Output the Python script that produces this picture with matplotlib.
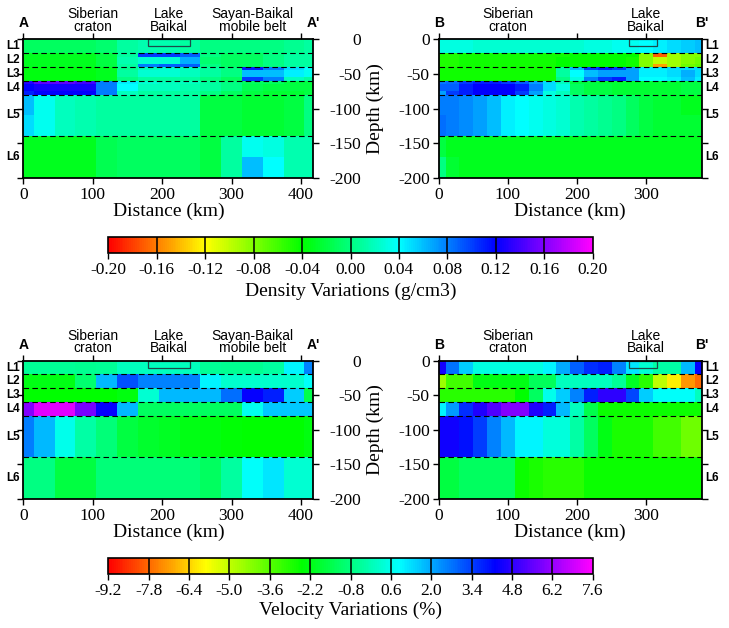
import numpy as np
import matplotlib
matplotlib.use("Agg")
import matplotlib.pyplot as plt
import matplotlib.transforms as mtransforms
from matplotlib.colors import LinearSegmentedColormap, Normalize
from matplotlib.cm import ScalarMappable
from matplotlib.patches import Rectangle

plt.rcParams['font.family'] = 'Liberation Serif'
plt.rcParams['axes.unicode_minus'] = False

# ---- profile geometry ----
dist_A = [0, 30, 60, 90, 120, 150, 180, 210, 240, 270, 300, 330, 360, 390, 420]
dist_B = [0, 20, 40, 60, 80, 100, 120, 140, 160, 180, 200, 220, 240, 260, 280,
          300, 320, 340, 360, 380]
len_A = 418
len_B = 380
dens_depth = [0, 20, 25, 35, 40, 45, 55, 60, 65, 75, 80, 110, 140, 170, 200]
vel_depth = [0, 20, 40, 60, 80, 140, 200]
layer_bounds = [20, 40, 60, 80, 140]
layer_names = ['L1', 'L2', 'L3', 'L4', 'L5', 'L6']
layer_mid = [10, 30, 50, 70, 110, 170]
lake_A = [180, 240]
lake_B = [275, 315]
regions_A = [(100, 'Siberian\ncraton'), (210, 'Lake\nBaikal'), (330, 'Sayan-Baikal\nmobile belt')]
regions_B = [(100, 'Siberian\ncraton'), (300, 'Lake\nBaikal')]
xticks_A = [0, 100, 200, 300, 400]
xticks_B = [0, 100, 200, 300]
yticks = [0, -50, -100, -150, -200]

# ---- density variations (g/cm3), rows = dens_depth intervals ----
dens_A = [
    [-0.01, -0.01, -0.01, -0.01, -0.005, 0.01, 0.015, 0.015, 0.01, 0.0, 0.0, 0.0, 0.0, 0.005, 0.01],
    [-0.03, -0.03, -0.03, -0.03, -0.02, 0.01, 0.10, 0.10, 0.09, 0.0, -0.01, -0.01, 0.0, 0.01, 0.01],
    [-0.03, -0.03, -0.03, -0.03, -0.02, 0.015, 0.025, 0.025, 0.065, -0.005, -0.01, -0.01, 0.0, 0.01, 0.01],
    [-0.03, -0.03, -0.03, -0.03, -0.02, 0.01, 0.08, 0.09, 0.09, 0.0, -0.01, -0.01, 0.0, 0.01, 0.01],
    [-0.035, -0.035, -0.035, -0.035, -0.03, 0.005, 0.02, 0.025, 0.02, 0.01, 0.0, 0.11, 0.08, 0.05, 0.04],
    [-0.035, -0.035, -0.035, -0.035, -0.03, 0.01, 0.025, 0.025, 0.02, 0.01, 0.0, 0.06, 0.06, 0.045, 0.035],
    [-0.035, -0.035, -0.035, -0.035, -0.03, 0.0, 0.01, 0.01, 0.01, 0.0, -0.01, 0.10, 0.08, 0.02, 0.01],
    [0.13, 0.15, 0.15, 0.14, 0.08, 0.045, 0.025, 0.02, 0.02, 0.01, 0.0, -0.01, -0.01, -0.02, -0.02],
    [0.12, 0.125, 0.125, 0.125, 0.08, 0.04, 0.02, 0.02, 0.015, 0.01, 0.0, -0.015, -0.02, -0.02, -0.02],
    [0.11, 0.12, 0.12, 0.12, 0.08, 0.02, 0.01, 0.01, 0.01, 0.0, -0.01, -0.02, -0.025, -0.025, -0.02],
    [0.06, 0.035, 0.02, 0.015, 0.01, 0.01, 0.01, 0.01, 0.01, -0.02, -0.02, -0.025, -0.025, -0.02, 0.0],
    [0.05, 0.035, 0.02, 0.015, 0.01, 0.01, 0.01, 0.01, 0.01, -0.02, -0.02, -0.025, -0.025, -0.02, 0.0],
    [-0.03, -0.03, -0.03, -0.03, -0.015, -0.01, -0.01, -0.01, -0.01, -0.02, 0.01, 0.035, 0.03, 0.015, 0.015],
    [-0.03, -0.03, -0.03, -0.03, -0.015, -0.01, -0.01, -0.01, -0.01, -0.02, 0.01, 0.06, 0.04, 0.015, 0.015],
]
dens_B = [
    [0.03, 0.03, 0.03, 0.025, 0.025, 0.025, 0.025, 0.025, 0.025, 0.025, 0.025, 0.03, 0.03, 0.035, 0.035, 0.04, 0.045, 0.05, 0.055, 0.06],
    [-0.05, -0.05, -0.045, -0.045, -0.045, -0.045, -0.045, -0.045, -0.045, -0.045, -0.04, -0.04, -0.04, -0.04, -0.04, -0.08, -0.17, -0.09, -0.08, -0.08],
    [-0.05, -0.05, -0.045, -0.045, -0.045, -0.045, -0.045, -0.045, -0.045, -0.04, -0.04, -0.04, -0.04, -0.04, -0.045, -0.08, -0.10, -0.09, -0.08, -0.075],
    [-0.05, -0.05, -0.045, -0.045, -0.045, -0.045, -0.045, -0.045, -0.045, -0.04, -0.04, -0.04, -0.04, -0.04, -0.045, -0.08, -0.15, -0.09, -0.075, -0.07],
    [-0.045, -0.045, -0.045, -0.045, -0.045, -0.045, -0.045, -0.045, -0.045, 0.01, 0.06, 0.10, 0.11, 0.10, 0.07, 0.045, 0.045, 0.05, 0.05, 0.05],
    [-0.045, -0.045, -0.045, -0.045, -0.045, -0.045, -0.045, -0.045, -0.045, 0.01, 0.04, 0.06, 0.07, 0.07, 0.07, 0.045, 0.045, 0.05, 0.065, 0.05],
    [-0.045, -0.045, -0.045, -0.045, -0.045, -0.045, -0.045, -0.045, -0.045, 0.0, 0.03, 0.08, 0.10, 0.11, 0.07, 0.04, 0.04, 0.045, 0.06, 0.045],
    [0.08, 0.085, 0.10, 0.11, 0.11, 0.10, 0.09, 0.07, 0.05, 0.02, -0.02, -0.02, -0.025, -0.025, -0.025, -0.025, -0.025, -0.025, -0.02, -0.02],
    [0.09, 0.09, 0.11, 0.12, 0.12, 0.12, 0.11, 0.08, 0.05, 0.03, -0.01, -0.02, -0.02, -0.025, -0.025, -0.025, -0.025, -0.025, -0.02, -0.02],
    [0.07, 0.10, 0.11, 0.12, 0.12, 0.12, 0.10, 0.07, 0.03, 0.02, -0.01, -0.02, -0.02, -0.025, -0.025, -0.025, -0.025, -0.025, -0.02, -0.02],
    [0.08, 0.08, 0.075, 0.07, 0.06, 0.045, 0.04, 0.035, 0.03, 0.025, 0.015, 0.01, 0.005, 0.0, -0.01, -0.02, -0.025, -0.025, -0.03, -0.03],
    [0.085, 0.08, 0.075, 0.07, 0.06, 0.045, 0.04, 0.035, 0.03, 0.025, 0.015, 0.01, 0.005, 0.0, -0.01, -0.02, -0.025, -0.025, -0.025, -0.025],
    [-0.02, -0.03, -0.03, -0.03, -0.03, -0.03, -0.03, -0.03, -0.03, -0.03, -0.03, -0.03, -0.03, -0.03, -0.03, -0.03, -0.03, -0.03, -0.03, -0.03],
    [0.0, -0.025, -0.03, -0.03, -0.03, -0.03, -0.03, -0.03, -0.03, -0.03, -0.03, -0.03, -0.03, -0.03, -0.03, -0.03, -0.03, -0.03, -0.03, -0.03],
]

# ---- velocity variations (%), rows = layers L1..L6 ----
vel_A = [
    [-0.5, -0.5, -0.5, -0.6, -0.5, 0.0, 0.0, 0.0, 0.0, -0.5, -0.6, -0.6, -0.4, 1.0, 2.5],
    [-2.2, -2.2, -2.2, -1.0, 1.8, 3.2, 2.5, 2.5, 2.5, 1.0, 0.2, 0.2, 0.2, 0.2, 0.8],
    [-2.5, -2.5, -2.5, -2.5, -2.5, -2.3, 0.3, 1.8, 1.8, 1.8, 2.8, 4.3, 3.8, 1.5, -1.5],
    [5.9, 7.2, 7.2, 5.8, 4.3, 1.8, -1.2, -1.2, -1.2, -1.2, -1.2, 0.7, 1.6, 1.6, 1.6],
    [2.6, 1.8, 0.6, -0.3, -0.9, -1.6, -1.9, -2.0, -2.2, -2.3, -2.4, -2.5, -2.5, -2.5, -2.3],
    [-0.8, -0.8, -1.6, -1.6, -0.9, -0.9, -0.9, -0.9, -0.9, -1.2, -0.4, 0.8, 1.2, 0.3, 0.3],
]
vel_B = [
    [4.5, 2.7, 1.5, 0.5, 0.5, 0.5, 0.5, 0.5, 1.0, 2.0, 3.0, 3.6, 3.8, 2.5, 1.2, 0.3, -0.3, -0.3, 1.8, 4.3],
    [-4.5, -3.3, -3.3, -2.2, -2.2, -2.2, -2.2, -1.3, -1.3, 0.0, 0.0, 0.0, 0.0, -0.5, -2.0, -3.0, -5.0, -6.0, -7.2, -7.8],
    [-3.0, -3.0, -3.0, -3.0, -3.0, -3.0, -2.5, -1.2, 0.6, 1.5, 2.5, 3.8, 4.8, 4.8, 3.3, 1.5, 0.8, 0.8, 0.8, 0.0],
    [1.0, 2.2, 3.6, 4.6, 5.3, 5.9, 5.9, 4.6, 3.8, 1.8, 0.0, -1.5, -2.6, -2.6, -2.6, -2.6, -2.6, -2.6, -2.6, -2.6],
    [4.4, 4.4, 4.0, 3.4, 2.5, 1.8, 1.0, 1.0, 0.4, 0.4, -0.3, -1.2, -2.2, -2.8, -2.8, -2.8, -3.3, -3.3, -3.9, -3.9],
    [-1.6, -1.6, -1.2, -1.2, -1.2, -1.2, -2.6, -2.8, -3.0, -3.0, -3.0, -2.6, -2.6, -2.6, -2.6, -2.6, -2.6, -2.6, -2.6, -2.6],
]

dens_ticks = [-0.20, -0.16, -0.12, -0.08, -0.04, 0.00, 0.04, 0.08, 0.12, 0.16, 0.20]
dens_labels = ['-0.20', '-0.16', '-0.12', '-0.08', '-0.04', '0.00', '0.04', '0.08', '0.12', '0.16', '0.20']
vel_ticks = [-9.2, -7.8, -6.4, -5.0, -3.6, -2.2, -0.8, 0.6, 2.0, 3.4, 4.8, 6.2, 7.6]
vel_labels = ['-9.2', '-7.8', '-6.4', '-5.0', '-3.6', '-2.2', '-0.8', '0.6', '2.0', '3.4', '4.8', '6.2', '7.6']

# GMT-like rainbow: red -> yellow -> green -> cyan -> blue -> magenta
cmap = LinearSegmentedColormap.from_list(
    'rainbow_gmt', ['#ff0000', '#ffff00', '#00ff00', '#00ffff', '#0000ff', '#ff00ff'])
dens_norm = Normalize(dens_ticks[0], dens_ticks[-1])
vel_norm = Normalize(vel_ticks[0], vel_ticks[-1])

fig = plt.figure(figsize=(7.29, 6.28), dpi=100)

SANS = 'Liberation Sans'


def draw_panel(rect, dist, length, depth_edges, values, norm, ends, regions, lake, xticks, side):
    ax = fig.add_axes(rect)
    dist = np.asarray(dist, float)
    xe = np.concatenate([[0], (dist[:-1] + dist[1:]) / 2, [length]])
    ye = -np.asarray(depth_edges, float)
    ax.pcolormesh(xe, ye, np.asarray(values), cmap=cmap, norm=norm, shading='flat')
    for d in layer_bounds:
        ax.axhline(-d, color='k', lw=0.8, ls=(0, (5, 3)))
    ax.add_patch(Rectangle((lake[0], -10), lake[1] - lake[0], 10, fill=False,
                           ec='#1d4a4a', lw=0.9))
    ax.set_xlim(0, length)
    ax.set_ylim(-200, 0)
    ax.set_xticks(xticks)
    ax.set_yticks(yticks)
    for s in ax.spines.values():
        s.set_linewidth(1.3)
    ax.tick_params(direction='out', length=4.5, width=1, labelsize=12.5,
                   top=True, bottom=True, left=True, right=True)
    ax.tick_params(axis='x', pad=2)
    ax.set_xlabel('Distance (km)', size=14, labelpad=0)

    xt = mtransforms.blended_transform_factory(ax.transData, ax.transAxes)
    yt = mtransforms.blended_transform_factory(ax.transAxes, ax.transData)
    ax.text(0, 1.115, ends[0], transform=xt, ha='center', va='center',
            family=SANS, fontweight='bold', size=10)
    ax.text(length, 1.115, ends[1], transform=xt, ha='center', va='center',
            family=SANS, fontweight='bold', size=10)
    for xk, txt in regions:
        ax.text(xk, 1.135, txt, transform=xt, ha='center', va='center',
                family=SANS, size=10, linespacing=0.85)

    if side == 'left':
        ax.tick_params(axis='y', labelleft=False, labelright=True, pad=30)
        for lab in ax.get_yticklabels():
            lab.set_horizontalalignment('right')
        for name, mid in zip(layer_names, layer_mid):
            ax.text(-0.012, -mid, name, transform=yt, ha='right', va='center',
                    family=SANS, fontweight='bold', size=8.5)
    else:
        ax.tick_params(axis='y', labelleft=True, labelright=False, pad=2)
        ax.text(-0.242, 0.5, 'Depth (km)', transform=ax.transAxes, rotation=90,
                ha='center', va='center', size=14)
        for name, mid in zip(layer_names, layer_mid):
            ax.text(1.015, -mid, name, transform=yt, ha='left', va='center',
                    family=SANS, fontweight='bold', size=8.5)
    return ax


def draw_cbar(rect, norm, ticks, labels, title, pad):
    cax = fig.add_axes(rect)
    cb = fig.colorbar(ScalarMappable(norm=norm, cmap=cmap), cax=cax,
                      orientation='horizontal', ticks=ticks)
    cb.set_ticklabels(labels)
    for t in ticks[1:-1]:
        cax.axvline(t, color='k', lw=1.1)
    cb.outline.set_linewidth(1.2)
    cax.tick_params(direction='out', length=4.5, width=1, labelsize=12.5, pad=2)
    cb.set_label(title, size=14, labelpad=pad)


left_x, left_w = 0.032, 0.398
right_x, right_w = 0.6018, 0.3608
top_y, bot_y, panel_h = 0.717, 0.2054, 0.2204

draw_panel([left_x, top_y, left_w, panel_h], dist_A, len_A, dens_depth, dens_A, dens_norm,
           ('A', "A'"), regions_A, lake_A, xticks_A, 'left')
draw_panel([right_x, top_y, right_w, panel_h], dist_B, len_B, dens_depth, dens_B, dens_norm,
           ('B', "B'"), regions_B, lake_B, xticks_B, 'right')
draw_panel([left_x, bot_y, left_w, panel_h], dist_A, len_A, vel_depth, vel_A, vel_norm,
           ('A', "A'"), regions_A, lake_A, xticks_A, 'left')
draw_panel([right_x, bot_y, right_w, panel_h], dist_B, len_B, vel_depth, vel_B, vel_norm,
           ('B', "B'"), regions_B, lake_B, xticks_B, 'right')

draw_cbar([0.1486, 0.5967, 0.6645, 0.0255], dens_norm, dens_ticks, dens_labels,
          'Density Variations (g/cm3)', 3)
draw_cbar([0.1486, 0.086, 0.6645, 0.025], vel_norm, vel_ticks, vel_labels,
          'Velocity Variations (%)', 2)

fig.savefig('out.png', dpi=100)
